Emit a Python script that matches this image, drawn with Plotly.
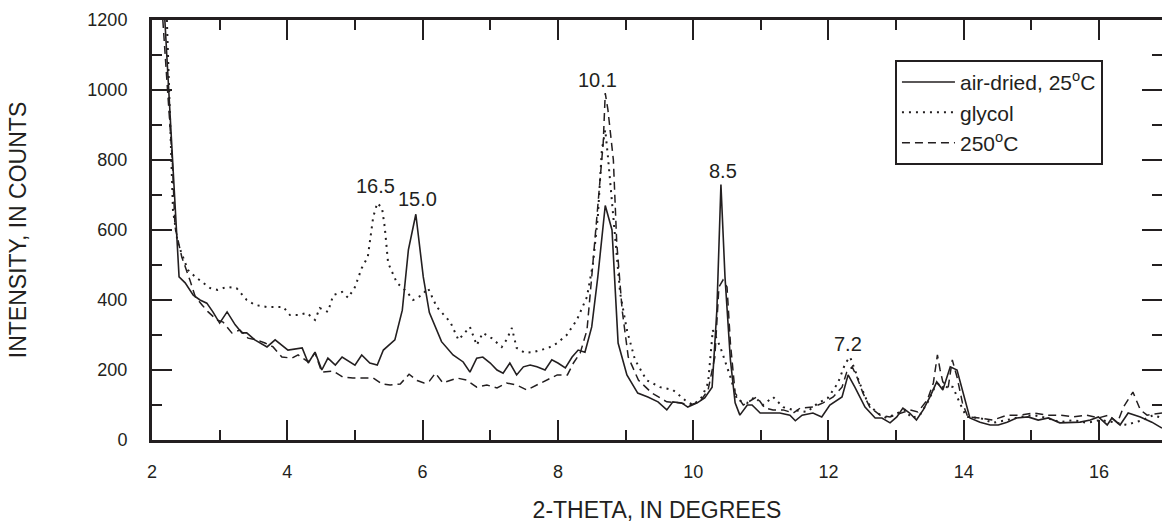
import plotly.graph_objects as go

# ---- data ----
air_x = [2.19, 2.30, 2.40, 2.49, 2.61, 2.71, 2.81, 2.90, 3.00, 3.11, 3.23, 3.33, 3.40, 3.52, 3.70, 3.82,
         4.01, 4.22, 4.31, 4.41, 4.51, 4.60, 4.71, 4.81, 5.00, 5.10, 5.22, 5.33, 5.42, 5.59, 5.70, 5.79,
         5.90, 6.01, 6.10, 6.28, 6.45, 6.60, 6.70, 6.80, 6.89, 7.00, 7.10, 7.19, 7.29, 7.39, 7.49, 7.59,
         7.69, 7.81, 7.91, 8.00, 8.11, 8.21, 8.30, 8.40, 8.50, 8.59, 8.70, 8.80, 8.84, 8.89, 9.02, 9.18,
         9.33, 9.48, 9.61, 9.70, 9.83, 9.92, 10.06, 10.17, 10.28, 10.35, 10.41, 10.47, 10.55, 10.62, 10.69,
         10.80, 10.87, 10.99, 11.14, 11.28, 11.43, 11.51, 11.61, 11.77, 11.90, 12.02, 12.20, 12.29, 12.39,
         12.54, 12.69, 12.79, 12.91, 13.01, 13.10, 13.20, 13.30, 13.40, 13.50, 13.60, 13.69, 13.80, 13.90,
         13.99, 14.09, 14.24, 14.39, 14.51, 14.64, 14.78, 14.95, 15.10, 15.25, 15.42, 15.57, 15.72, 15.87,
         15.99, 16.12, 16.19, 16.31, 16.43, 16.61, 16.78, 16.93]
air_y = [1200, 800, 466, 449, 414, 400, 391, 366, 334, 366, 329, 306, 306, 286, 266, 286,
         257, 263, 220, 251, 200, 234, 214, 237, 214, 243, 220, 214, 257, 286, 371, 543,
         645, 466, 364, 281, 243, 223, 194, 234, 237, 220, 200, 191, 220, 186, 209, 214,
         209, 200, 229, 220, 206, 237, 257, 251, 323, 466, 670, 600, 466, 277, 186, 134,
         123, 109, 86, 109, 106, 94, 106, 120, 151, 371, 730, 466, 229, 106, 71,
         100, 100, 77, 77, 77, 71, 55, 71, 77, 66, 100, 123, 186, 151,
         94, 63, 63, 49, 66, 91, 77, 57, 86, 123, 166, 143, 209, 200,
         134, 63, 51, 43, 43, 51, 63, 66, 57, 63, 49, 49, 51, 57,
         66, 43, 63, 43, 77, 66, 51, 34]

gly_x = [2.22, 2.31, 2.38, 2.46, 2.53, 2.64, 2.75, 2.86, 2.97, 3.10, 3.25, 3.40, 3.52, 3.70, 3.85, 3.94,
         4.04, 4.16, 4.29, 4.41, 4.48, 4.60, 4.68, 4.81, 4.90, 5.00, 5.10, 5.19, 5.27, 5.33, 5.40, 5.44,
         5.49, 5.62, 5.77, 5.86, 5.99, 6.08, 6.21, 6.41, 6.53, 6.70, 6.80, 6.89, 7.02, 7.17, 7.24, 7.32,
         7.39, 7.51, 7.63, 7.74, 7.86, 7.99, 8.13, 8.28, 8.43, 8.52, 8.59, 8.65, 8.70, 8.74, 8.82, 8.92,
         9.02, 9.14, 9.31, 9.51, 9.70, 9.88, 10.00, 10.13, 10.22, 10.29, 10.40, 10.55, 10.65, 10.80, 10.91,
         11.03, 11.18, 11.33, 11.48, 11.68, 11.85, 11.99, 12.14, 12.25, 12.32, 12.39, 12.46, 12.58, 12.72,
         12.86, 13.01, 13.13, 13.23, 13.35, 13.47, 13.57, 13.65, 13.72, 13.77, 13.84, 13.94, 14.04, 14.24,
         14.43, 14.64, 14.83, 15.03, 15.23, 15.42, 15.62, 15.82, 16.02, 16.21, 16.41, 16.50, 16.65, 16.80, 16.93]
gly_y = [1200, 657, 563, 523, 486, 466, 451, 434, 429, 437, 434, 400, 386, 380, 380, 380,
         357, 357, 363, 343, 377, 366, 414, 423, 406, 437, 491, 523, 637, 677, 663, 609,
         506, 449, 423, 400, 414, 434, 380, 337, 286, 323, 271, 306, 291, 266, 286, 320,
         263, 249, 251, 257, 263, 277, 300, 343, 409, 506, 637, 829, 886, 809, 637, 420,
         314, 229, 171, 151, 143, 114, 100, 123, 163, 314, 266, 180, 114, 106, 123,
         100, 123, 94, 86, 80, 106, 120, 163, 220, 237, 200, 163, 106, 77,
         63, 77, 86, 63, 71, 109, 151, 163, 143, 157, 151, 106, 66, 63,
         49, 57, 66, 71, 63, 51, 57, 49, 57, 51, 43, 49, 57, 71, 63]

h250_x = [2.16, 2.30, 2.34, 2.44, 2.56, 2.64, 2.74, 2.83, 2.96, 3.05, 3.18, 3.30, 3.42, 3.55, 3.67, 3.79,
          3.92, 4.07, 4.16, 4.31, 4.41, 4.51, 4.68, 4.82, 4.97, 5.12, 5.27, 5.40, 5.52, 5.67, 5.80, 5.92,
          6.02, 6.10, 6.19, 6.30, 6.51, 6.65, 6.80, 6.95, 7.10, 7.24, 7.39, 7.54, 7.69, 7.84, 7.99, 8.14,
          8.23, 8.33, 8.43, 8.50, 8.60, 8.67, 8.70, 8.74, 8.82, 8.87, 8.95, 9.04, 9.19, 9.39, 9.61, 9.81,
          9.95, 10.10, 10.22, 10.32, 10.38, 10.44, 10.50, 10.55, 10.62, 10.74, 10.94, 11.06, 11.18, 11.33,
          11.48, 11.58, 11.77, 11.92, 12.07, 12.20, 12.27, 12.35, 12.42, 12.51, 12.61, 12.76, 12.91, 13.06,
          13.21, 13.32, 13.46, 13.55, 13.61, 13.65, 13.69, 13.77, 13.83, 13.90, 13.98, 14.06, 14.24, 14.43,
          14.64, 14.83, 15.03, 15.23, 15.42, 15.62, 15.82, 15.99, 16.14, 16.27, 16.36, 16.50, 16.61, 16.71, 16.93]
h250_y = [1200, 800, 609, 523, 457, 409, 386, 366, 343, 337, 306, 314, 291, 286, 277, 266,
          237, 234, 243, 223, 249, 194, 197, 180, 177, 177, 177, 160, 157, 160, 188, 170,
          163, 168, 191, 163, 177, 171, 151, 157, 149, 163, 157, 143, 157, 171, 186, 186,
          220, 249, 314, 466, 694, 849, 991, 943, 800, 563, 371, 237, 171, 134, 109, 106,
          100, 109, 143, 237, 437, 457, 437, 277, 134, 100, 123, 91, 86, 86,
          77, 91, 94, 106, 123, 151, 194, 209, 180, 134, 94, 71, 66, 77,
          86, 80, 114, 163, 243, 200, 166, 151, 229, 180, 106, 66, 63, 57,
          71, 71, 77, 71, 71, 66, 71, 63, 71, 49, 94, 137, 86, 71, 77]

peak_labels = ["16.5", "15.0", "10.1", "8.5", "7.2"]
peak_x = [5.30, 5.92, 8.58, 10.44, 12.29]
peak_y = [725, 688, 1029, 769, 274]

series_names = ["air-dried, 25<sup>o</sup>C", "glycol", "250<sup>o</sup>C"]

INK = "#231f20"
FONT = "Liberation Sans, Arial, sans-serif"

fig = go.Figure()
fig.add_trace(go.Scatter(x=air_x, y=air_y, mode="lines", name=series_names[0],
                         line=dict(color=INK, width=1.6)))
fig.add_trace(go.Scatter(x=gly_x, y=gly_y, mode="lines", name=series_names[1],
                         line=dict(color=INK, width=2, dash="2px,5px")))
fig.add_trace(go.Scatter(x=h250_x, y=h250_y, mode="lines", name=series_names[2],
                         line=dict(color=INK, width=1.5, dash="8px,5px")))

for t, x, y in zip(peak_labels, peak_x, peak_y):
    fig.add_annotation(x=x, y=y, text=t, showarrow=False, yanchor="middle",
                       font=dict(family=FONT, size=20, color=INK))

axis_common = dict(showline=True, linewidth=3, linecolor=INK, mirror="ticks",
                   ticks="inside", ticklen=20, tickwidth=2, tickcolor=INK,
                   showgrid=False, zeroline=False, automargin=False,
                   tickfont=dict(family=FONT, size=18, color=INK))

fig.update_xaxes(range=[2, 16.93], dtick=2, tick0=2,
                 minor=dict(ticks="inside", ticklen=10, tickwidth=2, tickcolor=INK, dtick=1, showgrid=False),
                 ticklabelstandoff=13,
                 title=dict(text="2-THETA, IN DEGREES", standoff=22,
                            font=dict(family=FONT, size=23, color=INK)),
                 **axis_common)
fig.update_yaxes(range=[0, 1200], dtick=200,
                 minor=dict(ticks="inside", ticklen=10, tickwidth=2, tickcolor=INK, dtick=100, showgrid=False),
                 ticklabelstandoff=18,
                 title=dict(text="INTENSITY, IN COUNTS", standoff=55,
                            font=dict(family=FONT, size=23, color=INK)),
                 **axis_common)

fig.update_layout(
    width=1162, height=529,
    margin=dict(l=152, r=0, t=20, b=89),
    paper_bgcolor="white", plot_bgcolor="white",
    showlegend=True,
    legend=dict(x=0.7356, y=0.905, xanchor="left", yanchor="top",
                bgcolor="white", bordercolor=INK, borderwidth=2,
                font=dict(family=FONT, size=21, color=INK),
                tracegroupgap=0, itemwidth=53,
                entrywidth=150, entrywidthmode="pixels"),
)

fig.write_html("out.html", post_script="document.body.style.margin='0';",
               config={"displayModeBar": False})
